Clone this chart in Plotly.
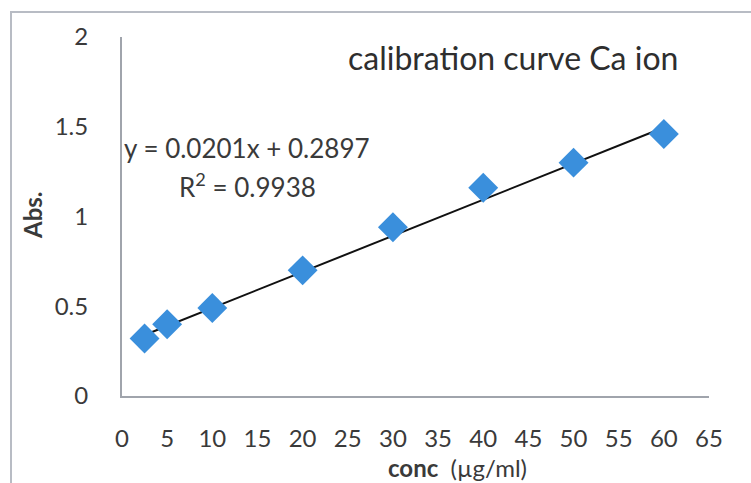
import plotly.graph_objects as go

conc = [2.5, 5, 10, 20, 30, 40, 50, 60]
absorbance = [0.32, 0.40, 0.49, 0.70, 0.94, 1.16, 1.30, 1.46]
slope = 0.0201
intercept = 0.2897
r2 = 0.9938
x_ticks = list(range(0, 70, 5))
y_ticks = [0, 0.5, 1, 1.5, 2]
y_tick_labels = ["0", "0.5", "1", "1.5", "2"]

W, H = 751, 483
ml, mr, mt, mb = 122, 42, 37, 87
pw = W - ml - mr
ph = H - mt - mb


def px(xp):
    return (xp - ml) / pw


def py(yp):
    return (H - mb - yp) / ph


fit_x = [min(conc), max(conc)]
fit_y = [slope * v + intercept for v in fit_x]

FONT = "Lato, Open Sans, sans-serif"
TXT = "#3a3a3a"
fig = go.Figure()
fig.add_trace(go.Scatter(x=fit_x, y=fit_y, mode="lines",
                         line=dict(color="#111111", width=2), showlegend=False))
fig.add_trace(go.Scatter(x=conc, y=absorbance, mode="markers",
                         marker=dict(symbol="diamond", size=23, color="#3a8fdc",
                                     line=dict(width=0)), showlegend=False))

fig.add_shape(type="rect", xref="paper", yref="paper",
              x0=px(11), x1=px(W + 5), y0=py(H + 5), y1=py(12),
              line=dict(color="#b8bcc4", width=2), fillcolor="rgba(0,0,0,0)", layer="above")


def note(x, y, text, size, color=TXT, angle=0):
    fig.add_annotation(x=px(x), y=py(y), xref="paper", yref="paper",
                       xanchor="center", yanchor="middle", text=text,
                       textangle=angle, showarrow=False,
                       font=dict(family=FONT, size=size, color=color))


note(513, 57, "calibration curve Ca ion", 32, "#2e2e2e")
note(247, 148, f"y = {slope}x + {intercept}", 26)
note(247, 186, f"R<sup>2</sup> = {r2}", 26)
note(33, 215, "<b>Abs.</b>", 24, angle=-90)
note(457, 467, "<b>conc</b>  (µg/ml)", 24)

fig.update_layout(
    width=W, height=H, margin=dict(l=ml, r=mr, t=mt, b=mb, autoexpand=False),
    paper_bgcolor="white", plot_bgcolor="white",
    xaxis=dict(range=[0, 65], tickvals=x_ticks, showgrid=False, zeroline=False,
               showline=True, linecolor="#a0a4ac", linewidth=2, ticks="",
               ticklabelstandoff=20, automargin=False,
               tickfont=dict(family=FONT, size=24, color=TXT)),
    yaxis=dict(range=[0, 2], tickvals=y_ticks, ticktext=y_tick_labels, showgrid=False,
               zeroline=False, showline=True, linecolor="#a0a4ac", linewidth=2, ticks="",
               ticklabelstandoff=27, automargin=False,
               tickfont=dict(family=FONT, size=24, color=TXT)),
)
fig.write_html("out.html", config={"displayModeBar": False},
               post_script="document.body.style.margin='0';")
